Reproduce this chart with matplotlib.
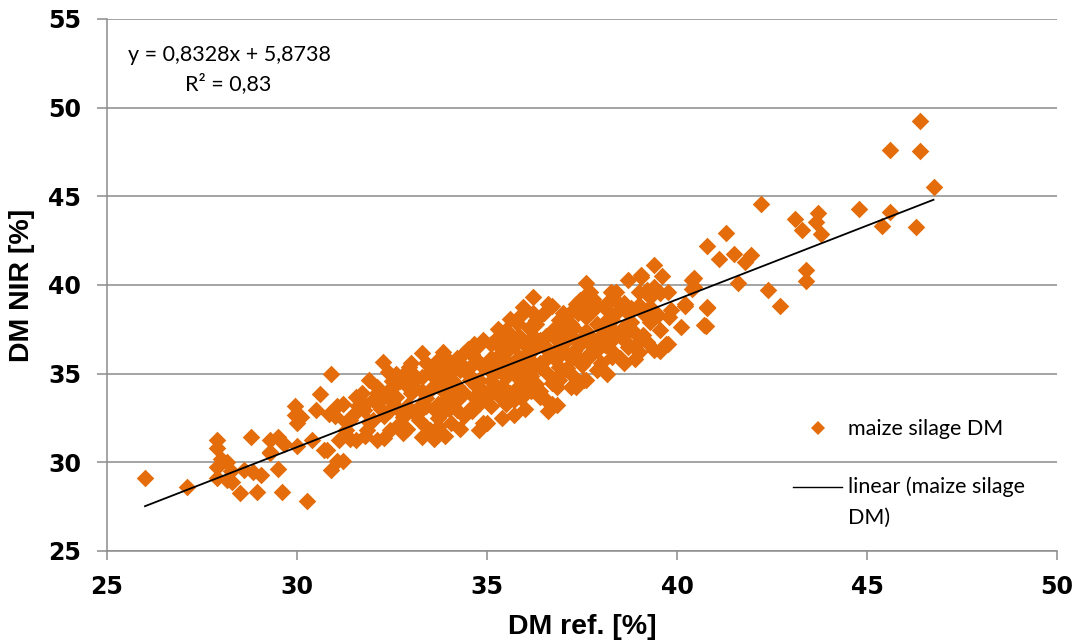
import matplotlib.pyplot as plt
from matplotlib.lines import Line2D
import numpy as np

# DM reference vs DM NIR (%)
dm_ref = [
    26.0, 27.1, 27.9, 27.9, 28.0, 27.9, 27.9, 28.15, 28.25, 28.15, 28.3, 28.5, 28.8, 28.6, 28.85,
    29.05, 28.95, 29.3, 29.5, 29.3, 29.5, 29.6, 29.65, 29.95, 29.95, 30.0, 30.0, 30.9, 30.6, 30.1,
    30.5, 30.85, 31.05, 30.4, 30.7, 30.9, 31.05, 30.25, 29.3, 30.8, 31.2, 31.1,
    31.0, 31.2, 31.55, 31.9, 32.1, 32.6, 32.95, 33.3, 33.7, 32.25, 31.85, 32.0, 32.45, 32.45,
    32.6, 32.8, 33.15, 33.3, 33.5, 33.7, 33.3, 32.95, 32.25, 31.75, 31.4, 32.1, 32.8, 33.7, 31.55,
    36.2, 36.6, 35.95, 37.35, 37.0, 36.3, 35.8, 35.5, 35.35, 34.9, 34.65, 33.85, 34.4, 33.7, 34.05,
    34.55, 35.25, 35.5, 35.85, 36.15, 36.55, 36.85, 37.2, 37.25, 36.9, 36.4, 36.15, 35.95, 36.85,
    37.2, 36.4, 36.15, 36.85, 35.7, 35.7, 35.5, 34.8, 34.65, 34.9, 34.05, 33.7, 34.2, 34.4, 34.8,
    35.25, 33.85, 34.55, 35.15,
    39.4, 38.7, 39.05, 37.6, 38.25, 39.4, 39.55, 39.3, 39.85, 39.55, 39.75, 39.4, 38.7, 38.75, 38.95,
    38.7, 38.15, 37.6, 36.9, 36.05, 35.1, 35.0, 35.1, 37.9, 37.45, 38.05, 38.3, 37.8, 37.45, 37.0,
    35.85, 35.45, 36.2, 36.55, 36.9, 37.6,
    40.45, 40.45, 39.75, 40.2, 40.8, 40.7, 40.1, 39.8, 38.6, 38.7, 38.15, 38.3, 38.3, 37.55, 37.35,
    37.7, 37.55, 37.55, 39.05,
    42.2, 43.1, 43.7, 43.65, 43.3, 43.8, 41.3, 40.8, 41.1, 41.5, 41.8, 41.95, 41.6, 42.4, 42.7,
    43.4, 43.4, 40.8, 40.75, 46.4, 45.6, 46.4, 46.75, 44.8, 45.6, 45.4, 46.3, 40.4, 40.4, 40.2,
    39.7, 39.55,
    32.2, 32.4, 32.5, 32.7, 32.9, 33.0, 32.8, 33.1, 33.2, 33.4, 33.5, 33.6, 33.8, 33.9, 34.0,
    33.2, 33.4, 34.1, 34.2, 34.3, 34.4, 34.6, 34.7, 34.9, 35.0, 35.1, 35.3, 35.4, 35.5, 35.6,
    35.7, 35.8, 35.9, 36.0, 36.1, 36.2, 36.3, 36.4, 36.5, 36.6, 36.7, 36.8, 36.9, 37.0, 37.1,
    37.2, 37.3, 37.4, 37.5, 37.6, 37.7, 37.8, 37.9, 38.0, 38.1, 38.2, 38.4, 38.5, 38.6, 38.8,
    38.9, 39.0, 39.1, 39.2, 39.3, 39.5, 39.6, 39.0, 38.4, 37.3, 36.5, 35.9, 35.2, 34.6, 34.0,
    33.4, 32.7, 32.0, 31.7, 31.5, 31.3, 31.8, 32.3, 32.9, 33.6, 33.0, 32.4, 34.8, 35.4, 36.0,
    36.6, 36.7, 34.3, 33.9,
    32.1, 32.3, 32.6, 32.9, 32.5, 33.1, 33.0, 33.3, 33.5, 33.6, 33.8, 33.9, 33.3, 33.7, 34.0,
    34.1, 34.3, 34.5, 34.6, 34.7, 34.9, 34.5, 34.2, 35.0, 34.8, 35.1, 35.3, 35.4, 35.6, 35.7,
    35.8, 35.2, 35.5, 35.9, 35.6, 35.3, 36.1, 36.3, 36.2, 36.5, 36.6, 36.8, 36.9, 36.7, 36.3,
    36.4, 36.7, 37.0, 37.1, 37.2, 37.4, 37.5, 37.6, 37.8, 37.9, 37.3, 37.7, 38.0, 37.9, 38.1,
    38.3, 38.5, 38.6, 38.8, 38.9, 39.1, 39.2, 39.3, 38.4, 39.0, 38.6, 31.3, 31.6, 31.9, 31.8,
    31.4,
    33.1, 33.4, 33.8, 34.2, 34.4, 34.0, 33.6, 34.8, 35.2, 35.7, 36.0, 36.4, 36.8, 37.1, 37.5,
    37.9, 38.2, 36.2, 36.9, 35.4, 38.7, 32.6, 33.9, 35.0,
]
dm_nir = [
    29.1, 28.6, 31.25, 30.8, 30.2, 29.75, 29.1, 30.0, 29.5, 29.0, 28.9, 28.25, 31.45, 29.55, 29.45,
    29.3, 28.35, 31.25, 31.45, 30.6, 29.65, 28.35, 31.05, 33.2, 32.65, 32.2, 30.9, 35.0, 33.85, 32.55,
    32.95, 32.75, 33.15, 31.25, 30.7, 29.55, 30.1, 27.8, 30.5, 30.7, 30.05, 31.25,
    32.6, 33.3, 33.7, 34.65, 34.25, 35.0, 35.4, 36.15, 35.75, 35.65, 31.8, 32.4, 31.8, 32.95,
    33.7, 32.55, 32.75, 31.45, 31.8, 33.3, 34.05, 34.45, 33.7, 32.95, 32.4, 31.25, 31.65, 34.65, 31.25,
    39.35, 38.95, 38.75, 38.95, 38.2, 38.0, 37.85, 37.45, 36.9, 36.9, 36.7, 36.25, 36.15, 35.4, 35.6,
    35.4, 35.95, 35.75, 35.95, 36.35, 36.5, 36.9, 37.1, 35.95, 35.4, 35.4, 34.85, 35.2, 34.25,
    34.25, 33.7, 34.05, 33.25, 33.5, 32.65, 33.3, 33.3, 33.7, 32.2, 32.2, 32.0, 32.95, 33.9, 34.65,
    34.25, 34.05, 34.65, 35.0,
    41.15, 40.3, 40.45, 40.1, 39.6, 39.9, 39.55, 38.75, 38.6, 37.45, 36.7, 36.35, 38.4, 37.45, 36.7,
    36.5, 35.0, 34.65, 34.65, 34.25, 33.15, 32.2, 36.7, 36.35, 36.7, 37.25, 38.0, 38.6, 39.15, 38.4,
    37.1, 37.25, 36.35, 37.1, 36.35, 35.95,
    40.4, 39.9, 39.6, 38.95, 38.7, 37.75, 37.65, 38.2, 37.65, 38.5, 38.6, 36.9, 35.95, 34.65, 34.25,
    37.1, 38.95, 39.35, 40.55,
    44.55, 43.75, 44.05, 43.55, 43.1, 42.9, 42.95, 42.2, 41.45, 41.75, 41.3, 41.7, 40.1, 39.7, 38.8,
    40.85, 40.2, 38.75, 37.7, 49.25, 47.6, 47.55, 45.55, 44.3, 44.1, 43.3, 43.25, 40.3, 39.8, 38.8,
    36.7, 36.3,
    33.0, 34.0, 33.4, 34.6, 33.2, 33.9, 34.9, 34.7, 33.0, 33.6, 35.1, 34.3, 32.7, 33.5, 34.9,
    32.4, 35.6, 33.4, 34.3, 35.2, 32.6, 33.1, 35.8, 34.0, 35.5, 34.6, 33.8, 36.4, 34.8, 35.3,
    36.6, 34.2, 33.6, 36.0, 37.6, 35.6, 34.4, 36.9, 38.4, 35.0, 37.4, 35.8, 38.0, 36.7, 35.3,
    37.8, 36.3, 38.4, 35.5, 37.4, 36.0, 39.2, 37.8, 35.6, 36.6, 39.1, 37.3, 35.9, 39.0, 37.9,
    35.8, 38.9, 37.2, 39.7, 37.9, 38.3, 40.5, 36.2, 38.4, 34.8, 33.6, 38.3, 36.9, 36.1, 35.7,
    32.0, 32.2, 33.5, 33.9, 32.7, 31.8, 31.5, 31.4, 31.9, 31.3, 35.6, 35.1, 31.8, 32.5, 33.0,
    32.9, 33.3, 31.9, 31.5,
    33.9, 32.6, 33.1, 34.3, 34.6, 32.7, 35.1, 33.3, 34.1, 33.0, 35.2, 34.5, 34.8, 32.5, 33.0,
    34.6, 33.7, 35.0, 32.9, 34.3, 35.4, 36.4, 35.9, 33.7, 36.6, 35.9, 35.2, 34.3, 33.9, 37.0,
    35.7, 34.0, 36.2, 34.7, 38.1, 37.5, 35.1, 36.8, 38.4, 35.7, 36.3, 37.6, 34.9, 38.8, 37.8,
    34.0, 34.5, 37.3, 36.1, 38.5, 35.9, 37.0, 38.2, 36.5, 35.2, 37.6, 39.6, 37.0, 38.9, 37.9,
    36.3, 38.9, 36.9, 38.7, 37.3, 38.4, 36.8, 39.3, 39.6, 39.6, 35.6, 32.3, 33.2, 32.3, 33.3,
    31.3,
    34.2, 33.2, 34.7, 33.5, 35.4, 34.0, 34.8, 34.2, 35.5, 35.0, 36.6, 35.6, 36.3, 37.5, 36.8,
    36.9, 37.5, 37.1, 36.0, 36.8, 37.4, 34.4, 33.2, 33.9,
]

slope, intercept = 0.8328, 5.8738
eq_text = 'y = 0,8328x + 5,8738'
r2_text = 'R² = 0,83'
legend_labels = ['maize silage DM', 'linear (maize silage', 'DM)']

orange = '#E46C0A'
grey = '#8C8C8C'

fig = plt.figure(figsize=(10.81, 6.44), dpi=100)
ax = fig.add_axes([107 / 1081, 1 - 551 / 644, 950 / 1081, 532 / 644])

ax.scatter(dm_ref, dm_nir, marker='D', s=80, color=orange, linewidths=0, zorder=3)

xs = np.array([min(dm_ref), max(dm_ref)])
ax.plot(xs, slope * xs + intercept, color='black', lw=1.3, zorder=4)

ax.set_xlim(25, 50)
ax.set_ylim(25, 55)
ax.set_xticks(np.arange(25, 51, 5))
ax.set_yticks(np.arange(25, 56, 5))
ax.yaxis.grid(True, color=grey, lw=1.1)
ax.set_axisbelow(True)
for s in ['top', 'right']:
    ax.spines[s].set_visible(False)
for s in ['left', 'bottom']:
    ax.spines[s].set_color(grey)
    ax.spines[s].set_linewidth(1.1)
ax.tick_params(axis='y', length=7.5, width=1.1, color=grey, pad=11)
ax.tick_params(axis='x', length=6.5, width=1.1, color=grey, pad=11)
for lab in ax.get_xticklabels() + ax.get_yticklabels():
    lab.set_fontfamily('DejaVu Sans')
    lab.set_fontweight('bold')
    lab.set_fontsize(17)

fig.text(582 / 1081, 1 - 627 / 644, 'DM ref. [%]', fontfamily='Liberation Sans',
         fontweight='bold', fontsize=20.5, ha='center', va='center')
fig.text(22 / 1081, 1 - 285 / 644, 'DM NIR [%]', fontfamily='Liberation Sans',
         fontweight='bold', fontsize=20.5, ha='center', va='center', rotation=90)

fig.text(128 / 1081, 1 - 55 / 644, eq_text, fontfamily='Lato', fontsize=15.5, va='center')
fig.text(185 / 1081, 1 - 84 / 644, r2_text, fontfamily='Lato', fontsize=15.5, va='center')

# legend, drawn by hand so the line sits level with the first text line
fig.add_artist(Line2D([818 / 1081], [1 - 428 / 644], marker='D', ls='none', color=orange,
                      markersize=7, markeredgewidth=0, transform=fig.transFigure))
fig.add_artist(Line2D([793 / 1081, 842 / 1081], [1 - 487 / 644] * 2, color='black', lw=1,
                      transform=fig.transFigure))
for lab, yp in zip(legend_labels, [429, 487, 518]):
    fig.text(848 / 1081, 1 - yp / 644, lab, fontfamily='Lato', fontsize=15.5, va='center')

fig.savefig('out.png', dpi=100)
